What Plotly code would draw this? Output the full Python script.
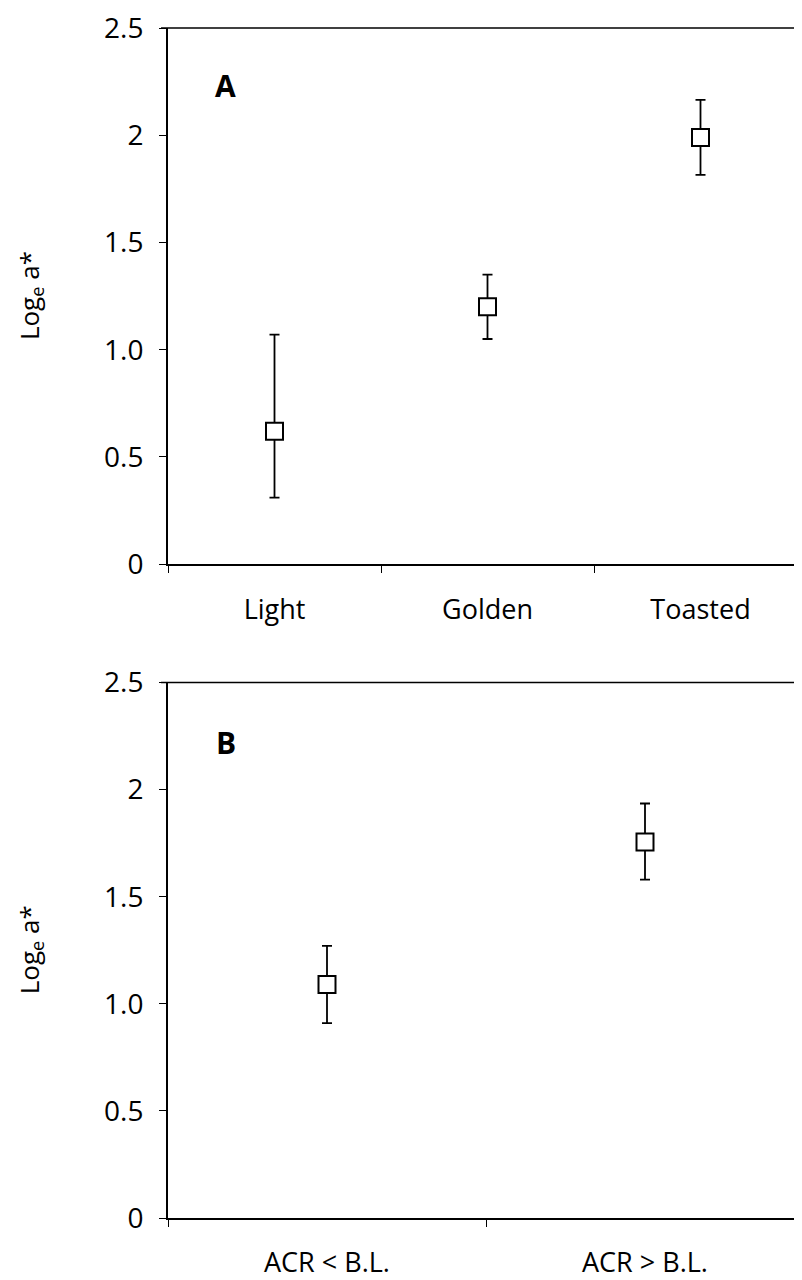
import plotly.graph_objects as go

# Panel A data
cats_a = ["Light", "Golden", "Toasted"]
mean_a = [0.62, 1.20, 1.99]
err_up_a = [0.45, 0.15, 0.175]
err_dn_a = [0.31, 0.15, 0.175]

# Panel B data
cats_b = ["ACR < B.L.", "ACR > B.L."]
mean_b = [1.09, 1.755]
err_up_b = [0.18, 0.18]
err_dn_b = [0.18, 0.175]

y_ticks = [0, 0.5, 1.0, 1.5, 2, 2.5]
y_ticktext = ["0", "0.5", "1.0", "1.5", "2", "2.5"]

FONT = "Open Sans"
# page body has an 8px default margin; the figure is sized so it ends at the window edge
W, H = 794, 1272
L, T, B = 160, 17, 61
plot_h = H - T - B
domA = [(H - B - 555) / plot_h, 1.0]
domB = [0.0, (H - B - 673.7) / plot_h]


def marker_trace(x, y, up, dn, xa, ya):
    return go.Scatter(
        x=x, y=y, mode="markers", xaxis=xa, yaxis=ya, showlegend=False,
        marker=dict(symbol="square", size=17, color="white",
                    line=dict(color="black", width=2)),
        error_y=dict(type="data", symmetric=False, array=up, arrayminus=dn,
                     color="black", thickness=1.8, width=5),
    )


fig = go.Figure()
fig.add_trace(marker_trace(cats_a, mean_a, err_up_a, err_dn_a, "x", "y"))
fig.add_trace(marker_trace(cats_b, mean_b, err_up_b, err_dn_b, "x2", "y2"))

xcommon = dict(type="category", showline=True, linecolor="black", linewidth=2,
               ticks="outside", tickson="boundaries", ticklen=7, tickwidth=1.3,
               tickcolor="black", showgrid=False, zeroline=False,
               tickfont=dict(family=FONT, size=27, color="black"),
               ticklabelstandoff=20)
ycommon = dict(range=[0, 2.5], tickvals=y_ticks, ticktext=y_ticktext,
               showline=True, linecolor="black", linewidth=2, ticks="outside",
               ticklen=7, tickwidth=1.3, tickcolor="black", showgrid=False,
               zeroline=False, tickfont=dict(family=FONT, size=28, color="black"),
               ticklabelstandoff=10, ticklabeloverflow="allow")

fig.update_layout(
    width=W, height=H,
    margin=dict(l=L, r=0, t=T, b=B),
    plot_bgcolor="white", paper_bgcolor="white",
    xaxis=dict(xcommon, categoryarray=cats_a, range=[-0.5, -0.5 + (W - L) / 213.0],
               anchor="y"),
    yaxis=dict(ycommon, domain=domA, anchor="x"),
    xaxis2=dict(xcommon, categoryarray=cats_b, range=[-0.5, -0.5 + (W - L) / 318.0],
                anchor="y2"),
    yaxis2=dict(ycommon, domain=domB, anchor="x2"),
)

# top border lines
for xa, ya in (("x", "y"), ("x2", "y2")):
    fig.add_shape(type="line", xref=f"{xa} domain", yref=f"{ya} domain",
                  x0=-0.011, x1=1, y0=1, y1=1, line=dict(color="black", width=1.3))

# panel letters
fig.add_annotation(text="<b>A</b>", x=-0.228, y=2.23, xref="x", yref="y",
                   showarrow=False, font=dict(family=FONT, size=30, color="black"))
fig.add_annotation(text="<b>B</b>", x=-0.318, y=2.22, xref="x2", yref="y2",
                   showarrow=False, font=dict(family=FONT, size=30, color="black"))

# y-axis titles
for dom in (domA, domB):
    fig.add_annotation(text="Log<sub>e</sub> a*", xref="paper", yref="paper",
                       x=(30 - 168) / (W - L), y=(dom[0] + dom[1]) / 2,
                       xanchor="center", yanchor="middle", textangle=-90,
                       showarrow=False,
                       font=dict(family=FONT, size=26, color="black"))

fig.write_html("out.html")
